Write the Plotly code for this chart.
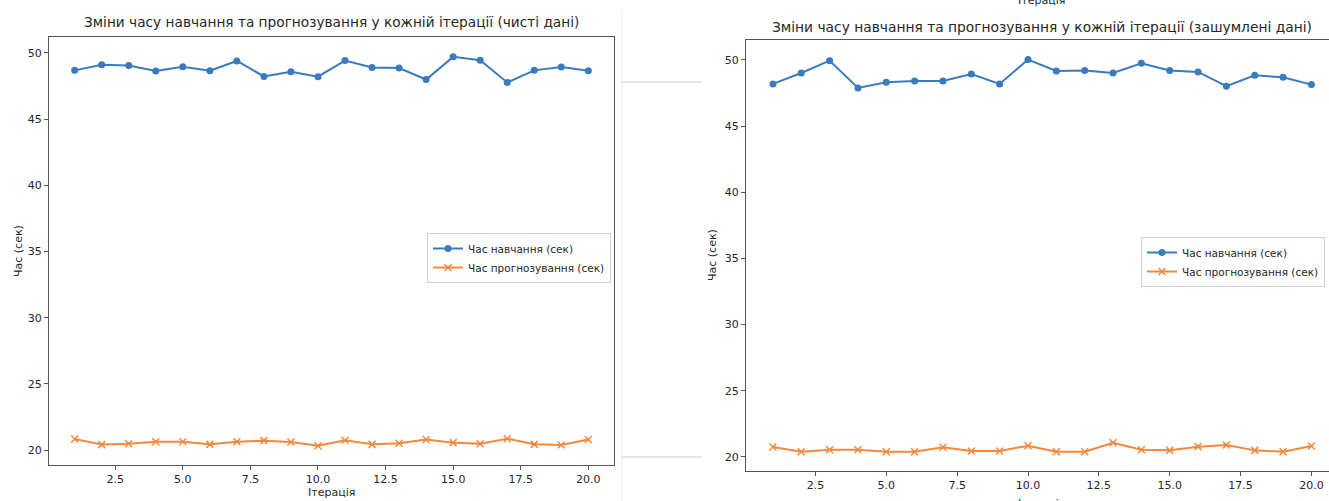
import plotly.graph_objects as go

W, H = 1329, 501

iterations = list(range(1, 21))

clean_train = [48.68, 49.10, 49.04, 48.64, 48.95, 48.65, 49.39, 48.22, 48.58, 48.20,
               49.42, 48.90, 48.86, 47.99, 49.70, 49.44, 47.77, 48.68, 48.93, 48.65]
clean_pred = [20.84, 20.41, 20.48, 20.63, 20.63, 20.43, 20.63, 20.71, 20.61, 20.33,
              20.74, 20.43, 20.51, 20.79, 20.56, 20.48, 20.86, 20.43, 20.38, 20.79]

noisy_train = [48.19, 49.02, 49.95, 47.89, 48.32, 48.42, 48.42, 48.94, 48.19, 50.03,
               49.17, 49.20, 49.02, 49.75, 49.20, 49.10, 48.02, 48.84, 48.69, 48.14]
noisy_pred = [20.75, 20.40, 20.55, 20.55, 20.40, 20.40, 20.73, 20.45, 20.45, 20.85,
              20.40, 20.40, 21.08, 20.55, 20.50, 20.78, 20.90, 20.50, 20.40, 20.83]

x_tickvals = [2.5, 5.0, 7.5, 10.0, 12.5, 15.0, 17.5, 20.0]
x_ticktext = ["2.5", "5.0", "7.5", "10.0", "12.5", "15.0", "17.5", "20.0"]
y_tickvals = [20, 25, 30, 35, 40, 45, 50]

title_clean = "Зміни часу навчання та прогнозування у кожній ітерації (чисті дані)"
title_noisy = "Зміни часу навчання та прогнозування у кожній ітерації (зашумлені дані)"
label_train = "Час навчання (сек)"
label_pred = "Час прогнозування (сек)"
x_label = "Ітерація"
y_label = "Час (сек)"

BLUE = "#3a7bbd"
ORANGE = "#f5883a"
TXT = "#262626"
FONT = "DejaVu Sans"


def px(x):
    return x / W


def py(y):
    return 1 - y / H


fig = go.Figure()

for xa, ya, tr, pr, lg in [("x", "y", clean_train, clean_pred, "legend"),
                           ("x2", "y2", noisy_train, noisy_pred, "legend2")]:
    fig.add_trace(go.Scatter(x=iterations, y=tr, mode="lines+markers", name=label_train,
                             line=dict(color=BLUE, width=2),
                             marker=dict(symbol="circle", size=7, color=BLUE),
                             xaxis=xa, yaxis=ya, legend=lg))
    fig.add_trace(go.Scatter(x=iterations, y=pr, mode="lines+markers", name=label_pred,
                             line=dict(color=ORANGE, width=2),
                             marker=dict(symbol="x-thin", size=7, color=ORANGE,
                                         line=dict(color=ORANGE, width=1.5)),
                             xaxis=xa, yaxis=ya, legend=lg))

axis_common = dict(showline=True, mirror=True, linecolor="#555555", linewidth=1.2,
                   ticks="outside", ticklen=4, tickcolor="#555555", showgrid=False,
                   zeroline=False, automargin=False,
                   tickfont=dict(family=FONT, size=11, color=TXT))

legend_common = dict(bgcolor="white", bordercolor="#d0d0d0", borderwidth=1,
                     font=dict(family=FONT, size=10.5, color=TXT),
                     xanchor="left", yanchor="top", tracegroupgap=0,
                     itemwidth=30)

fig.update_layout(
    width=W, height=H, margin=dict(l=0, r=0, t=0, b=0, autoexpand=False),
    paper_bgcolor="white", plot_bgcolor="white",
    showlegend=True,
    xaxis=dict(domain=[px(49), px(614)], range=[0.05, 20.95],
               tickvals=x_tickvals, ticktext=x_ticktext, anchor="y", **axis_common),
    yaxis=dict(domain=[py(465), py(37)], range=[18.87, 51.2],
               tickvals=y_tickvals, anchor="x", **axis_common),
    xaxis2=dict(domain=[px(746), 1.0], range=[0.05, 20.62],
                tickvals=x_tickvals, ticktext=x_ticktext, anchor="y2", **axis_common),
    yaxis2=dict(domain=[py(471), py(40)], range=[18.94, 51.51],
                tickvals=y_tickvals, anchor="x2", **axis_common),
    legend=dict(x=px(427), y=py(233), **legend_common),
    legend2=dict(x=px(1141), y=py(237), **legend_common),
)

ann_font = dict(family=FONT, size=11, color=TXT)
annotations = [
    dict(text=title_clean, x=px(331), y=py(22), font=dict(family=FONT, size=13.7, color=TXT)),
    dict(text=title_noisy, x=px(1042), y=py(27), font=dict(family=FONT, size=13.8, color=TXT)),
    dict(text=x_label, x=px(331), y=py(492), font=ann_font),
    dict(text=x_label, x=px(1041), y=py(504), font=ann_font),
    dict(text=x_label, x=px(1041), y=py(0), font=ann_font),
    dict(text=y_label, x=px(18), y=py(251), font=ann_font, textangle=-90),
    dict(text=y_label, x=px(712), y=py(255), font=ann_font, textangle=-90),
]
for a in annotations:
    fig.add_annotation(xref="paper", yref="paper", showarrow=False,
                       xanchor="center", yanchor="middle", **a)

shapes = [
    dict(x0=px(622), x1=px(622), y0=py(10), y1=0, line=dict(color="#ececec", width=1)),
    dict(x0=px(622), x1=px(702), y0=py(82), y1=py(82), line=dict(color="#cccccc", width=1)),
    dict(x0=px(622), x1=px(702), y0=py(457), y1=py(457), line=dict(color="#cccccc", width=1)),
]
for s in shapes:
    fig.add_shape(type="line", xref="paper", yref="paper", **s)

fig.write_html("out.html", config={"displayModeBar": False},
               post_script="document.body.style.margin='0';document.body.style.overflow='hidden';")
